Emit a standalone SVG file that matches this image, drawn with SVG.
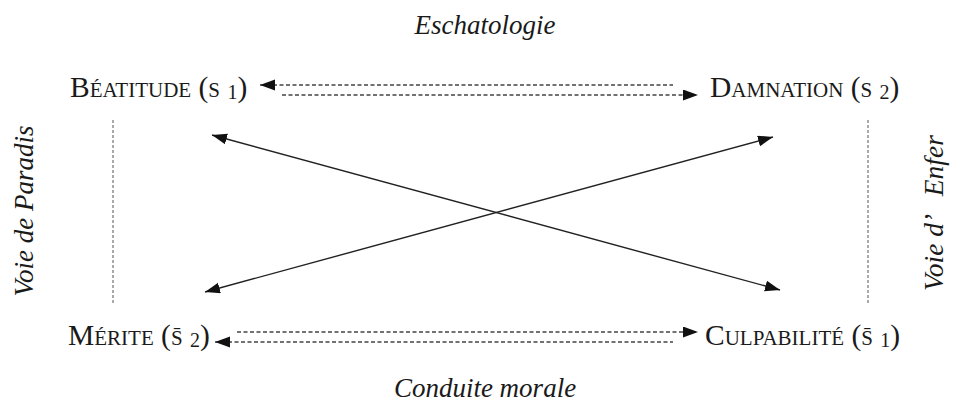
<svg xmlns="http://www.w3.org/2000/svg" width="953" height="408" viewBox="0 0 953 408">
<style>
.node{font-family:"Liberation Serif","Times New Roman",serif;font-size:29.5px;font-variant:small-caps;fill:#1a1a1a}
.sub{font-size:20px;font-variant:normal}
.lab{font-family:"Liberation Serif","Times New Roman",serif;font-size:27px;font-style:italic;fill:#1a1a1a;text-anchor:middle;white-space:pre}
.dash{stroke:#444;stroke-width:1.3;stroke-dasharray:4 2.5;fill:none}
.vdash{stroke:#555;stroke-width:1;stroke-dasharray:3 2;fill:none}
.solid{stroke:#222;stroke-width:1.4;fill:none}
</style>
<defs>
<marker id="ah" markerUnits="userSpaceOnUse" markerWidth="17" markerHeight="12" refX="15" refY="5.5" orient="auto-start-reverse" viewBox="0 0 17 12">
<path d="M0,0 L15,5.5 L0,11 z" fill="#111"/>
</marker>
</defs>
<rect width="953" height="408" fill="#fff"/>
<g id="labels">
<text class="lab" x="485" y="34">Eschatologie</text>
<text class="lab" x="485" y="397">Conduite morale</text>
<text class="lab" transform="translate(33,211) rotate(-90)">Voie de Paradis</text>
<text class="lab" transform="translate(943,213) rotate(-90)" style="font-size:27.5px">Voie d’   Enfer</text>
</g>
<g id="beatitude"><text class="node" x="70" y="97">Béatitude (s <tspan class="sub" dy="2">1</tspan><tspan dy="-2">)</tspan></text></g>
<g id="damnation"><text class="node" x="710" y="97">Damnation (s <tspan class="sub" dy="2">2</tspan><tspan dy="-2">)</tspan></text></g>
<g id="merite"><text class="node" x="68" y="345">Mérite (s̄ <tspan class="sub" dy="2">2</tspan><tspan dy="-2">)</tspan></text></g>
<g id="culpabilite"><text class="node" x="705" y="345">Culpabilité (s̄ <tspan class="sub" dy="2">1</tspan><tspan dy="-2">)</tspan></text></g>
<g id="connectors">
<line class="dash" x1="260" y1="85" x2="673" y2="85" marker-start="url(#ah)"/>
<line class="dash" x1="282" y1="95" x2="698" y2="95" marker-end="url(#ah)"/>
<line class="dash" x1="237" y1="332" x2="698" y2="332" marker-end="url(#ah)"/>
<line class="dash" x1="215" y1="342" x2="673" y2="342" marker-start="url(#ah)"/>
<line class="vdash" x1="113" y1="120" x2="113" y2="303"/>
<line class="vdash" x1="868" y1="120" x2="868" y2="303"/>
<line class="solid" x1="212" y1="135" x2="780" y2="290" marker-start="url(#ah)" marker-end="url(#ah)"/>
<line class="solid" x1="205" y1="292" x2="773" y2="137" marker-start="url(#ah)" marker-end="url(#ah)"/>
</g>
</svg>
